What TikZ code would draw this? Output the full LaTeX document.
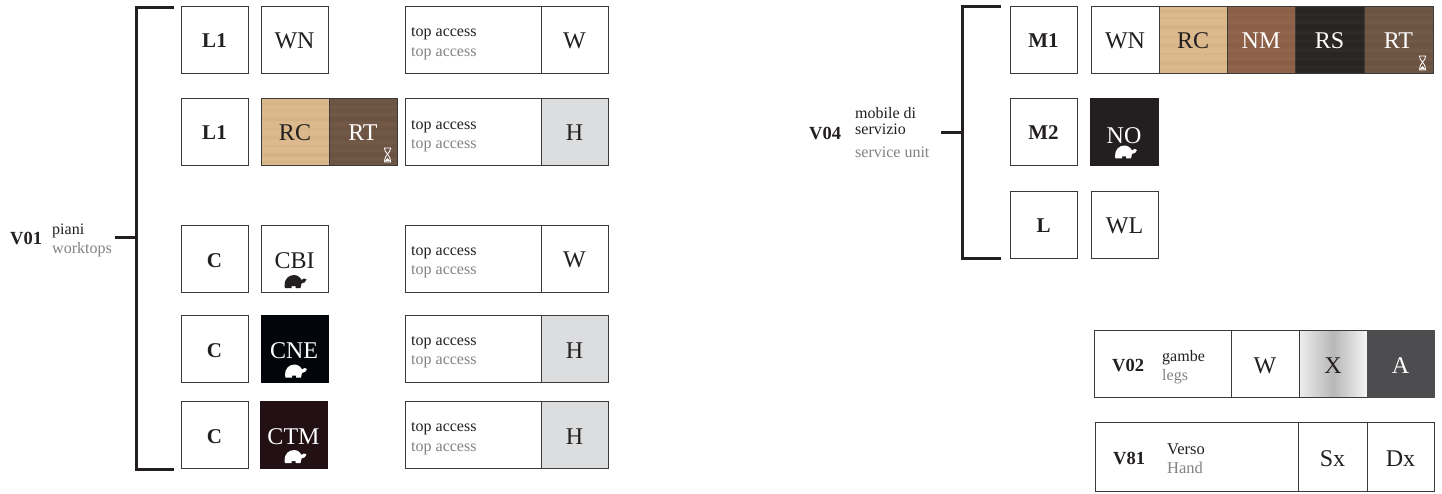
\documentclass[tikz,border=0pt]{standalone}
\usepackage{fontspec}
\setmainfont{Liberation Serif}
\usetikzlibrary{calc}
\definecolor{ink}{HTML}{231F20}
\definecolor{soft}{HTML}{808285}
\definecolor{edge}{HTML}{3A3A3A}
\definecolor{hgrey}{HTML}{DCDDDE}
\definecolor{woodrc}{HTML}{DCB98C}
\definecolor{woodrt}{HTML}{6F5644}
\definecolor{woodnm}{HTML}{8F6149}
\definecolor{woodrs}{HTML}{2A2623}
\definecolor{blackno}{HTML}{231F20}
\definecolor{blackcne}{HTML}{02050A}
\definecolor{blackctm}{HTML}{231015}
\definecolor{anth}{HTML}{4D4D4F}
\tikzset{
  cell/.style={draw=edge,line width=1pt,rectangle,inner sep=0pt,anchor=north west,xshift=-.5pt,
    minimum width=67pt,minimum height=67pt,text=ink,text height=18pt,text depth=0pt,font=\fontsize{24}{24}\selectfont},
  codecell/.style={cell,text height=16pt,font=\fontsize{21}{20}\selectfont\bfseries},
  accesscell/.style={cell,minimum width=136pt},
  wood/.style={cell,fill=#1,text=white,path picture={
    \foreach \s/\h/\o in {4/3/.025,11/2/.02,19/4/.03,30/2/.02,38/3/.025,47/2/.02,55/4/.03,63/2/.02}{
      \fill[black,opacity=\o] ($(path picture bounding box.north west)+(0,\s)$) rectangle +(80,\h);}
    \foreach \s/\h/\o in {8/2/.02,15/3/.02,25/3/.025,34/2/.02,43/3/.02,52/2/.02,60/2/.02}{
      \fill[white,opacity=\o] ($(path picture bounding box.north west)+(0,\s)$) rectangle +(80,\h);}
  }},
  solid cell/.style={cell,fill=#1,draw=#1,text=white},
  big/.style={text=#1,inner sep=0pt,font=\fontsize{24}{24}\selectfont},
  lab/.style={inner sep=0pt,anchor=base west,text=ink,font=\fontsize{16}{16}\selectfont},
  labsoft/.style={lab,text=soft},
  vcode/.style={inner sep=0pt,anchor=base west,text=ink,font=\fontsize{18.5}{18}\selectfont\bfseries},
  rail/.style={draw=ink,line width=3pt,line cap=butt,line join=miter},
  tortoise/.pic={
    \fill (-10.5,4) .. controls (-11,-3) and (-6,-7) .. (-1,-7) .. controls (3,-7) and (5.5,-4) .. (6.5,-2)
      .. controls (7.5,-4) and (10.5,-4) .. (11.5,-2.5) .. controls (11,0) and (9,1) .. (6.5,1.5) -- (5.5,6) -- (0.5,6)
      -- (0.5,4) -- (-3.5,4) -- (-3.5,6) -- (-10,6) -- cycle;
  },
  hourglass/.pic={
    \draw[white,line width=.8pt] (-3.5,-7) -- (3.5,-7) (-3.5,7) -- (3.5,7)
      (-3,-6.5) .. controls (-3,-2) and (2.5,-1) .. (3,6.5) (3,-6.5) .. controls (3,-2) and (-2.5,-1) .. (-3,6.5);
    \fill[white] (-3,6.5) -- (0,3) -- (3,6.5) -- cycle;
  },
}
\begin{document}
\begin{tikzpicture}[x=1pt,y=-1pt]
\useasboundingbox[fill=white] (0,0) rectangle (1442,494);

% --- V01 group
\node[vcode] (v01) at (10,245) {V01};
\node[lab] (v01it) at (52,235) {piani};
\node[labsoft] (v01en) at (52,254) {worktops};
\coordinate (v01stub) at (115,237.5);
\coordinate (v01j) at (136,237.5);
\coordinate (v01t) at (174,7.5);
\coordinate (v01b) at (174,469);
\coordinate (v01tc) at (136,7.5);
\coordinate (v01bc) at (136,469);
\draw[rail] (v01t) -- (v01tc) -- (v01bc) -- (v01b);
\draw[rail] (v01stub) -- (v01j);

% row 1
\node[codecell] (a1) at (181,6) {L1};
\node[cell] (a2) at (261,6) {WN};
\node[accesscell] (a3) at (405,6) {};
\node[cell] (a4) at (541,6) {W};
\node[lab] (a5) at (411,37) {top access};
\node[labsoft] (a6) at (411,57) {top access};
% row 2
\node[codecell] (b1) at (181,98) {L1};
\node[wood=woodrc,text=ink,minimum width=68pt] (b2) at (261,98) {RC};
\node[wood=woodrt,minimum width=68pt] (b3) at (329,98) {RT};
\pic at (387.5,155) {hourglass};
\node[accesscell] (b4) at (405,98) {};
\node[cell,fill=hgrey] (b5) at (541,98) {H};
\node[lab] (b6) at (411,130) {top access};
\node[labsoft] (b7) at (411,149) {top access};
% row 3
\node[codecell] (c1) at (181,225) {C};
\node[cell] (c2) at (261,225) {};
\node[big=ink] (c2t) at (294.5,260.5) {CBI};
\pic[ink] at (295,282) {tortoise};
\node[accesscell] (c3) at (405,225) {};
\node[cell] (c4) at (541,225) {W};
\node[lab] (c5) at (411,255) {top access};
\node[labsoft] (c6) at (411,274) {top access};
% row 4
\node[codecell] (d1) at (181,315) {C};
\node[solid cell=blackcne] (d2) at (261,315) {};
\node[big=white] (d2t) at (294,350.5) {CNE};
\pic[white] at (295.5,371.5) {tortoise};
\node[accesscell] (d3) at (405,315) {};
\node[cell,fill=hgrey] (d4) at (541,315) {H};
\node[lab] (d5) at (411,345) {top access};
\node[labsoft] (d6) at (411,364) {top access};
% row 5
\node[codecell] (e1) at (181,401) {C};
\node[solid cell=blackctm] (e2) at (260,401) {};
\node[big=white] (e2t) at (293.5,436.5) {CTM};
\pic[white] at (295,457) {tortoise};
\node[accesscell] (e3) at (405,401) {};
\node[cell,fill=hgrey] (e4) at (541,401) {H};
\node[lab] (e5) at (411,431) {top access};
\node[labsoft] (e6) at (411,451) {top access};

% --- V04 group
\node[vcode] (v04) at (809,140) {V04};
\node[lab] (v04it1) at (855,119) {mobile di};
\node[lab] (v04it2) at (855,135) {servizio};
\node[labsoft] (v04en) at (855,158) {service unit};
\coordinate (v04stub) at (941,133);
\coordinate (v04j) at (962.5,133);
\coordinate (v04t) at (1001,7);
\coordinate (v04b) at (1001,258.5);
\coordinate (v04tc) at (962.5,7);
\coordinate (v04bc) at (962.5,258.5);
\draw[rail] (v04t) -- (v04tc) -- (v04bc) -- (v04b);
\draw[rail] (v04stub) -- (v04j);

\node[codecell] (m1) at (1010,6) {M1};
\node[cell,minimum width=68pt] (m1a) at (1091,6) {WN};
\node[wood=woodrc,text=ink,minimum width=68pt] (m1b) at (1159,6) {RC};
\node[wood=woodnm,minimum width=68pt] (m1c) at (1227,6) {NM};
\node[wood=woodrs,minimum width=69pt] (m1d) at (1295,6) {RS};
\node[wood=woodrt,minimum width=69pt] (m1e) at (1364,6) {RT};
\pic at (1422.5,63) {hourglass};
\node[codecell] (m2) at (1010,98) {M2};
\node[solid cell=blackno,minimum width=68pt] (m2a) at (1090.5,98) {};
\node[big=white] (m2t) at (1124,135.5) {NO};
\pic[white] at (1125.5,152.5) {tortoise};
\node[codecell] (l1) at (1010,191) {L};
\node[cell] (l2) at (1091,191) {WL};

% --- V02 strip
\node[cell,minimum width=137pt] (v02box) at (1094,330) {};
\node[vcode] (v02) at (1112,371) {V02};
\node[lab] (v02it) at (1162,361) {gambe};
\node[labsoft] (v02en) at (1162,380) {legs};
\node[cell,minimum width=68pt] (v02w) at (1231,330) {W};
\node[cell,minimum width=68pt,left color=white!93!black,right color=white!96!black,middle color=black!28] (v02x) at (1299,330) {X};
\node[solid cell=anth] (v02a) at (1367,330) {A};

% --- V81 strip
\node[cell,minimum width=203pt,minimum height=69pt] (v81box) at (1095,422) {};
\node[vcode] (v81) at (1113,464) {V81};
\node[lab,font=\fontsize{16.5}{16}\selectfont] (v81it) at (1167,454) {Verso};
\node[labsoft,font=\fontsize{16.5}{16}\selectfont] (v81en) at (1167,473) {Hand};
\node[cell,minimum width=69pt,minimum height=69pt] (v81s) at (1298,422) {Sx};
\node[cell,minimum height=69pt] (v81d) at (1367,422) {Dx};
\end{tikzpicture}
\end{document}
